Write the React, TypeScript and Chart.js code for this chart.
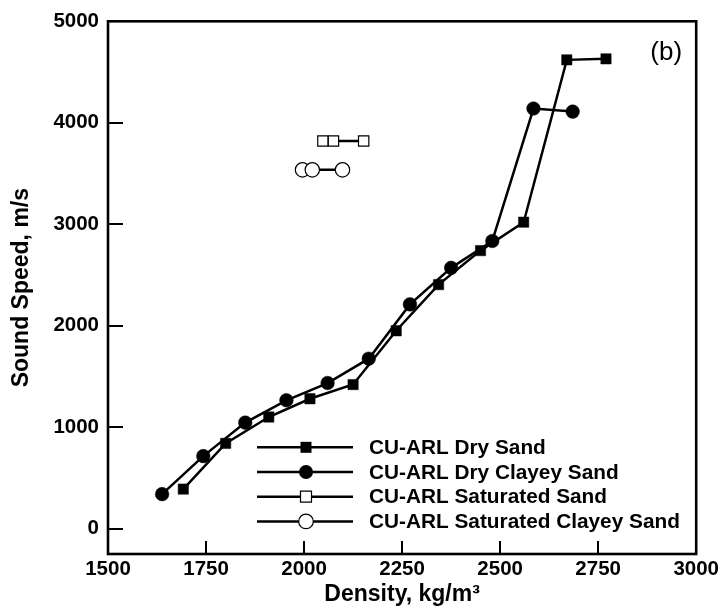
import React, { useEffect, useRef } from "react";
import { Chart, registerables } from "chart.js";

Chart.register(...registerables);

// ---- Data ----
const drySandDensity = [1692, 1800, 1910, 2015, 2125, 2235, 2343, 2450, 2560, 2670, 2770];
const drySandSpeed = [390, 840, 1100, 1280, 1420, 1950, 2405, 2740, 3020, 4620, 4630];

const dryClayDensity = [1638, 1743, 1850, 1955, 2060, 2165, 2270, 2375, 2480, 2585, 2685];
const dryClaySpeed = [340, 715, 1045, 1265, 1435, 1675, 2210, 2570, 2835, 4140, 4110];

const satSandDensity = [2048, 2075, 2152];
const satSandSpeed = [3820, 3820, 3820];

const satClayDensity = [1996, 2021, 2098];
const satClaySpeed = [3536, 3536, 3536];

const seriesLabels = [
  "CU-ARL Dry Sand",
  "CU-ARL Dry Clayey Sand",
  "CU-ARL Saturated Sand",
  "CU-ARL Saturated Clayey Sand",
];

const xTickValues = [1500, 1750, 2000, 2250, 2500, 2750, 3000];
const yTickValues = [0, 1000, 2000, 3000, 4000, 5000];

const panelLabel = "(b)";
const xTitle = "Density, kg/m\u00B3";
const yTitle = "Sound Speed, m/s";

const FONT = "'Liberation Sans', Arial, Helvetica, sans-serif";

const zip = (xs: number[], ys: number[]) => xs.map((x, i) => ({ x, y: ys[i] }));

type MarkerKind = "rectFilled" | "circleFilled" | "rectOpen" | "circleOpen";
const legendMarkers: MarkerKind[] = ["rectFilled", "circleFilled", "rectOpen", "circleOpen"];

function drawMarker(ctx: CanvasRenderingContext2D, kind: MarkerKind, x: number, y: number) {
  ctx.save();
  ctx.strokeStyle = "#000";
  ctx.lineWidth = 1.2;
  if (kind === "rectFilled") {
    ctx.fillStyle = "#000";
    ctx.fillRect(x - 5.5, y - 5.5, 11, 11);
  } else if (kind === "circleFilled") {
    ctx.fillStyle = "#000";
    ctx.beginPath();
    ctx.arc(x, y, 7, 0, Math.PI * 2);
    ctx.fill();
  } else if (kind === "rectOpen") {
    ctx.fillStyle = "#fff";
    ctx.beginPath();
    ctx.rect(x - 5.5, y - 5.5, 11, 11);
    ctx.fill();
    ctx.stroke();
  } else {
    ctx.fillStyle = "#fff";
    ctx.beginPath();
    ctx.arc(x, y, 7.3, 0, Math.PI * 2);
    ctx.fill();
    ctx.stroke();
  }
  ctx.restore();
}

const framePlugin = {
  id: "frameTicksLegend",
  afterDatasetsDraw(chart: any) {
    const { ctx, chartArea: a, scales } = chart;
    ctx.save();
    // inward tick marks
    ctx.strokeStyle = "#000";
    ctx.lineWidth = 2;
    ctx.beginPath();
    for (const v of xTickValues) {
      const px = Math.round(scales.x.getPixelForValue(v));
      ctx.moveTo(px, a.bottom);
      ctx.lineTo(px, a.bottom - 13);
    }
    for (const v of yTickValues) {
      const py = Math.round(scales.y.getPixelForValue(v));
      ctx.moveTo(a.left, py);
      ctx.lineTo(a.left + 15, py);
    }
    ctx.stroke();

    // frame
    ctx.lineWidth = 2.6;
    ctx.strokeRect(a.left, a.top, a.right - a.left, a.bottom - a.top);

    // legend
    const lx0 = a.left + 149;
    const lx1 = a.left + 245;
    const mx = a.left + 198;
    const tx = a.left + 261;
    const ry0 = a.top + 426;
    const dy = 24.7;
    ctx.font = `bold 20.8px ${FONT}`;
    ctx.textAlign = "left";
    ctx.textBaseline = "middle";
    seriesLabels.forEach((label, i) => {
      const y = ry0 + i * dy;
      ctx.strokeStyle = "#000";
      ctx.lineWidth = 2.5;
      ctx.beginPath();
      ctx.moveTo(lx0, y);
      ctx.lineTo(lx1, y);
      ctx.stroke();
      drawMarker(ctx, legendMarkers[i], mx, y);
      ctx.fillStyle = "#000";
      ctx.fillText(label, tx, y + 1);
    });

    // panel label
    ctx.font = `26px ${FONT}`;
    ctx.textAlign = "center";
    ctx.textBaseline = "middle";
    ctx.fillStyle = "#000";
    ctx.fillText(panelLabel, a.right - 30, a.top + 32);
    ctx.restore();
  },
};

export default function App() {
  const canvasRef = useRef<HTMLCanvasElement | null>(null);

  useEffect(() => {
    const canvas = canvasRef.current;
    if (!canvas) return;
    const lineCommon = {
      showLine: true,
      borderColor: "#000",
      borderWidth: 2.5,
      pointBorderColor: "#000",
      tension: 0,
    };
    const chart = new Chart(canvas, {
      type: "scatter",
      data: {
        datasets: [
          {
            ...lineCommon,
            label: seriesLabels[0],
            data: zip(drySandDensity, drySandSpeed),
            pointStyle: "rect",
            pointRadius: 7.3,
            pointBackgroundColor: "#000",
            pointBorderWidth: 0.5,
          },
          {
            ...lineCommon,
            label: seriesLabels[1],
            data: zip(dryClayDensity, dryClaySpeed),
            pointStyle: "circle",
            pointRadius: 6.8,
            pointBackgroundColor: "#000",
            pointBorderWidth: 0.5,
          },
          {
            ...lineCommon,
            label: seriesLabels[2],
            data: zip(satSandDensity, satSandSpeed),
            pointStyle: "rect",
            pointRadius: 7.3,
            pointBackgroundColor: "#fff",
            pointBorderWidth: 1.2,
          },
          {
            ...lineCommon,
            label: seriesLabels[3],
            data: zip(satClayDensity, satClaySpeed),
            pointStyle: "circle",
            pointRadius: 7.2,
            pointBackgroundColor: "#fff",
            pointBorderWidth: 1.2,
          },
        ],
      },
      options: {
        animation: false,
        responsive: false,
        maintainAspectRatio: false,
        devicePixelRatio: 1,
        layout: { padding: { top: 19, right: 25, left: 0, bottom: 0 } },
        plugins: {
          legend: { display: false },
          tooltip: { enabled: false },
        },
        scales: {
          x: {
            type: "linear",
            min: 1500,
            max: 3000,
            afterBuildTicks: (s: any) => {
              s.ticks = xTickValues.map((v) => ({ value: v }));
            },
            afterFit: (s: any) => {
              s.height = 59;
            },
            grid: { display: false, drawTicks: false },
            border: { display: false },
            ticks: {
              padding: 3,
              color: "#000",
              font: { family: FONT, size: 20.5, weight: "bold" },
              maxRotation: 0,
              autoSkip: false,
              callback: (v: any) => String(v),
            },
            title: {
              display: true,
              text: xTitle,
              color: "#000",
              font: { family: FONT, size: 23, weight: "bold" },
              padding: { top: 0, bottom: 5 },
            },
          },
          y: {
            type: "linear",
            min: -250,
            max: 5000,
            afterBuildTicks: (s: any) => {
              s.ticks = yTickValues.map((v) => ({ value: v }));
            },
            afterFit: (s: any) => {
              s.width = 108;
            },
            grid: { display: false, drawTicks: false },
            border: { display: false },
            ticks: {
              padding: 9,
              color: "#000",
              font: { family: FONT, size: 20.5, weight: "bold" },
              autoSkip: false,
              callback: (v: any) => String(v),
            },
            title: {
              display: true,
              text: yTitle,
              color: "#000",
              font: { family: FONT, size: 23, weight: "bold" },
              padding: { top: 8, bottom: 0 },
            },
          },
        },
      } as any,
      plugins: [framePlugin],
    });
    return () => chart.destroy();
  }, []);

  return (
    <div style={{ position: "absolute", left: 0, top: 0, width: 722, height: 613, background: "#fff" }}>
      <canvas ref={canvasRef} width={722} height={613} style={{ display: "block" }} />
    </div>
  );
}
